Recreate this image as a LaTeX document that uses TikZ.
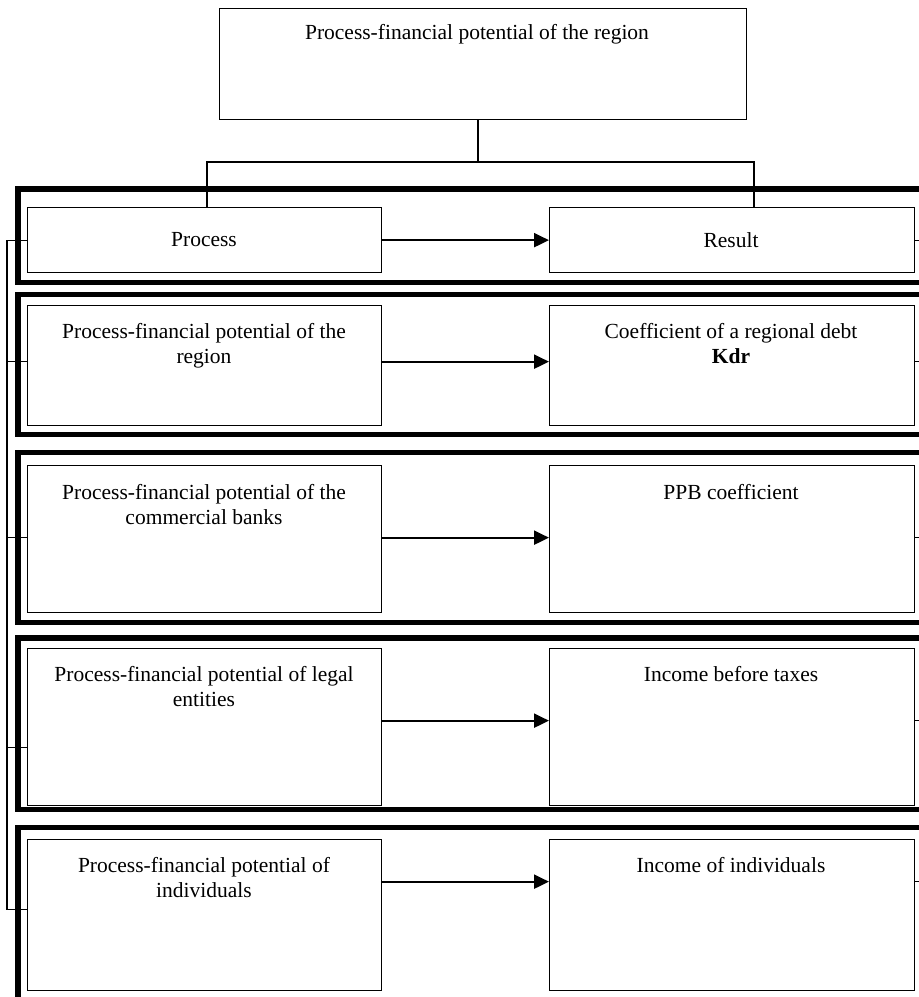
\documentclass[tikz,border=0pt]{standalone}
\usepackage{fontspec}
\setmainfont{Liberation Serif}
\usetikzlibrary{arrows.meta,calc}
\begin{document}
\begin{tikzpicture}[x=1pt,y=-1pt,
  box/.style={draw, line width=1.3pt, anchor=north west, inner sep=0pt},
  lbox/.style={box, minimum width=354pt},
  rbox/.style={box, minimum width=365pt},
  band/.style={draw, line width=5.5pt},
  txt/.style={font=\fontsize{21.5}{25}\selectfont, align=center, inner sep=0pt, anchor=north},
  wire/.style={line width=1.3pt},
  arr/.style={line width=2.2pt, -{Triangle[length=15pt,width=14pt]}}]
\useasboundingbox (0,0) rectangle (919,997);
\begin{scope}
\clip (0,0) rectangle (919,997);
% bands
\draw[band] (18,1020) |- (940,827.5);
\draw[band] (940,638) -| (18,809.5) -- (940,809.5);
\draw[band] (940,452.5) -| (18,622.5) -- (940,622.5);
\draw[band] (940,294.5) -| (18,434.5) -- (940,434.5);
\draw[band] (940,189) -| (18,282.5) -- (940,282.5);
% top box
\node[box, minimum width=527pt, minimum height=111pt] (top) at (219,8) {};
% left boxes
\node[lbox, minimum height=65pt] (p1) at (27,207) {};
\node[lbox, minimum height=120pt] (p2) at (27,305) {};
\node[lbox, minimum height=147pt] (p3) at (27,465) {};
\node[lbox, minimum height=157pt] (p4) at (27,648) {};
\node[lbox, minimum height=151pt] (p5) at (27,839) {};
% right boxes
\node[rbox, minimum height=65pt] (r1) at (549,207) {};
\node[rbox, minimum height=120pt] (r2) at (549,305) {};
\node[rbox, minimum height=147pt] (r3) at (549,465) {};
\node[rbox, minimum height=157pt] (r4) at (549,648) {};
\node[rbox, minimum height=151pt] (r5) at (549,839) {};
% texts
\node[txt] (tTop) at (477,24) {Process-financial potential of the region};
\node[txt] (tp1) at (204,232) {Process};
\node[txt] (tr1) at (731,232) {Result};
\node[txt] (tp2) at (204,323) {Process-financial potential of the\\region};
\node[txt] (tr2) at (731,323) {Coefficient of a regional debt\\\textbf{Kdr}};
\node[txt] (tp3) at (204,484) {Process-financial potential of the\\commercial banks};
\node[txt] (tr3) at (731,484) {PPB coefficient};
\node[txt] (tp4) at (204,666) {Process-financial potential of legal\\entities};
\node[txt] (tr4) at (731,666) {Income before taxes};
\node[txt] (tp5) at (204,857) {Process-financial potential of\\individuals};
\node[txt] (tr5) at (731,857) {Income of individuals};
% tree connectors
\coordinate (jn) at (478,162);
\coordinate (jl) at (207,162);
\coordinate (jr) at (754,162);
\draw[wire] (jn |- top.south) -- (jn);
\draw[wire] (jl |- p1.north) -- (jl) -- (jr) -- (jr |- r1.north);
% left spine
\coordinate (sp) at (7,0);
\coordinate (l5) at ([yshift=5.5pt]p5.west);
\draw[wire] (p1.west) -- (p1.west -| sp) -- (sp |- l5) -- (l5);
\draw[wire] ([yshift=4pt]p2.west) -- ([yshift=4pt]p2.west -| sp);
\draw[wire] ([yshift=1.5pt]p3.west) -- ([yshift=1.5pt]p3.west -| sp);
\draw[wire] ([yshift=-20.5pt]p4.west) -- ([yshift=-20.5pt]p4.west -| sp);
% arrows
\draw[arr] (p1.east) -- (r1.west);
\draw[arr] ([yshift=4pt]p2.east) -- ([yshift=4pt]r2.west);
\draw[arr] ([yshift=1.5pt]p3.east) -- ([yshift=1.5pt]r3.west);
\draw[arr] ([yshift=6.5pt]p4.east) -- ([yshift=6.5pt]r4.west);
\draw[arr] ([yshift=33.5pt]p5.east) -- ([yshift=33.5pt]r5.west);
% right stubs
\draw[wire] (r1.east) -- ++(10,0);
\draw[wire] ([yshift=4pt]r2.east) -- ++(10,0);
\draw[wire] ([yshift=1.5pt]r3.east) -- ++(10,0);
\draw[wire] ([yshift=6.5pt]r4.east) -- ++(10,0);
\draw[wire] ([yshift=33.5pt]r5.east) -- ++(10,0);
\end{scope}
\end{tikzpicture}
\end{document}
